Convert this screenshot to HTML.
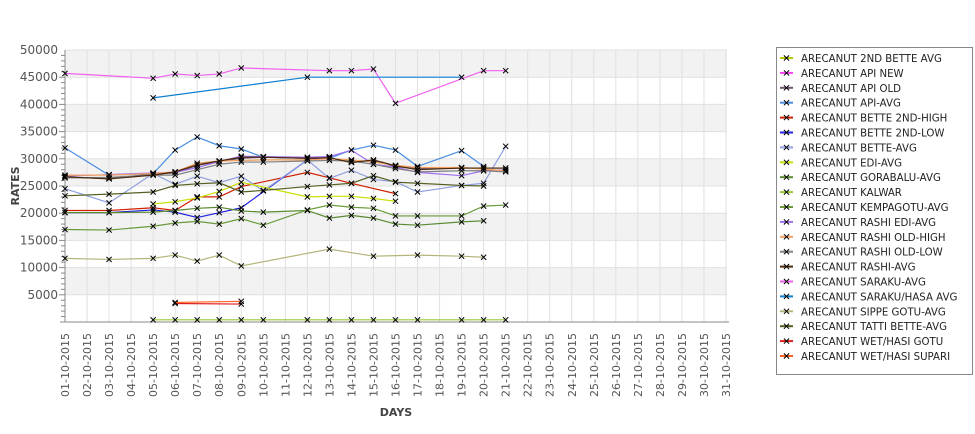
<!DOCTYPE html>
<html><head><meta charset="utf-8"><style>
body{margin:0;background:#fff;width:975px;height:429px;overflow:hidden;font-family:"Liberation Sans","DejaVu Sans",sans-serif}
svg text{font-family:"DejaVu Sans","Liberation Sans",sans-serif}
</style></head><body>
<svg id="chart" width="975" height="429" xmlns="http://www.w3.org/2000/svg">
<g id="bands"></g>
<g id="grid"></g>
<g id="axes"></g>
<g id="series"></g>
<text x="19" y="186" transform="rotate(-90 19 186)" text-anchor="middle" font-size="11" font-weight="bold" fill="#444">RATES</text>
<text x="396" y="416" text-anchor="middle" font-size="11" font-weight="bold" fill="#444">DAYS</text>
<g id="legend"></g>
</svg>
<script>
const categories = ["01-10-2015","02-10-2015","03-10-2015","04-10-2015","05-10-2015","06-10-2015","07-10-2015","08-10-2015","09-10-2015","10-10-2015","11-10-2015","12-10-2015","13-10-2015","14-10-2015","15-10-2015","16-10-2015","17-10-2015","18-10-2015","19-10-2015","20-10-2015","21-10-2015","22-10-2015","23-10-2015","24-10-2015","25-10-2015","26-10-2015","27-10-2015","28-10-2015","29-10-2015","30-10-2015","31-10-2015"];
const yTicks = [5000,10000,15000,20000,25000,30000,35000,40000,45000,50000];
const seriesNames = ["ARECANUT 2ND BETTE AVG","ARECANUT API NEW","ARECANUT API OLD","ARECANUT API-AVG","ARECANUT BETTE 2ND-HIGH","ARECANUT BETTE 2ND-LOW","ARECANUT BETTE-AVG","ARECANUT EDI-AVG","ARECANUT GORABALU-AVG","ARECANUT KALWAR","ARECANUT KEMPAGOTU-AVG","ARECANUT RASHI EDI-AVG","ARECANUT RASHI OLD-HIGH","ARECANUT RASHI OLD-LOW","ARECANUT RASHI-AVG","ARECANUT SARAKU-AVG","ARECANUT SARAKU/HASA AVG","ARECANUT SIPPE GOTU-AVG","ARECANUT TATTI BETTE-AVG","ARECANUT WET/HASI GOTU","ARECANUT WET/HASI SUPARI"];
const seriesColors = ["#b5c800","#ff40ff","#6e566e","#4a8ee0","#d02000","#2020e0","#90a0e0","#c8e000","#5a8a30","#9ac832","#6a9a3a","#a070f0","#f4a060","#808080","#4a2a0a","#f060f0","#1080d0","#b5b57a","#556020","#e02020","#ff6020"];
const s2ndBette = {};
const sApiNew = {};
const sApiOld = {0:26600,2:26400,4:27200,5:27400,6:28800,7:29500,8:30100,9:30300,11:30100,12:30200,13:29400,14:29700,15:28600,16:28200,18:28300,19:28300,20:28300};
const sApiAvg = {0:32000,2:27000,4:27300,5:31600,6:34000,7:32400,8:31800,9:30300,11:30100,12:30100,13:31600,14:32500,15:31600,16:28600,18:31500,19:28600};
const sBette2High = {0:20500,2:20500,4:21000,5:20500,6:23000,7:23000,8:24900,11:27500,12:26500,13:25500,15:23600};
const sBette2Low = {0:20100,2:20100,4:20600,5:20200,6:19200,7:20100,8:21000,11:29800,12:30300};
const sBetteAvg = {0:24500,2:21900,4:27300,5:25300,6:26800,7:25600,8:26800,9:24100,11:29800,12:26400,13:27900,14:26200,15:25800,16:23900,18:25100,19:25500,20:32300};
const sEdiAvg = {4:21700,5:22100,6:22800,7:24000,8:25700,11:23000,12:23100,13:23100,14:22700,15:22200};
const sGorabalu = {0:20100,2:20100,4:20200,5:20500,6:20900,7:21100,8:20400,9:20200,11:20500,12:19100,13:19600,14:19100,15:18000,16:17800,18:18400,19:18600};
const sKalwar = {4:400,5:400,6:400,7:400,8:400,9:400,11:400,12:400,13:400,14:400,15:400,16:400,18:400,19:400,20:400};
const sKempagotu = {0:17000,2:16900,4:17600,5:18200,6:18500,7:18000,8:19000,9:17800,11:20600,12:21500,13:21100,14:20900,15:19500,16:19500,18:19500,19:21300,20:21500};
const sRashiEdi = {0:26800,2:27100,4:27400,5:27500,6:28400,7:29500,8:30500,9:30400,11:30300,12:30400,13:31600,14:29000,15:28500,16:27500,18:26900,19:27800,20:28000};
const sRashiOldHigh = {0:27000,2:27000,4:27300,5:27600,6:29200,7:29600,8:29700,9:29800,11:29800,12:30000,13:29800,14:29400,15:28800,16:28400,18:28400,19:28100,20:27800};
const sRashiOldLow = {0:26500,2:26600,4:27000,5:27000,6:28000,7:29000,8:29400,9:29400,11:29600,12:29700,13:29600,14:29000,15:28200,16:27600,18:27800,19:27800,20:27600};
const sRashiAvg = {0:26700,2:26300,4:27000,5:27600,6:28900,7:29600,8:30300,9:30300,11:30100,12:30200,13:29300,14:29800,15:28700,16:28000,18:28300,19:28300,20:28300};
const sSaraku = {0:45700,4:44800,5:45600,6:45300,7:45600,8:46700,12:46200,13:46200,14:46500,15:40200,19:46200,20:46200};
const sSarakuHasa = {4:41200,11:45000,18:45000};
const sSippe = {0:11700,2:11500,4:11700,5:12300,6:11200,7:12300,8:10300,12:13400,14:12100,16:12300,18:12100,19:11900};
const sTatti = {0:23200,2:23500,4:23900,5:25100,6:25400,7:25600,8:23900,9:24200,11:24900,12:25200,13:25500,14:26900,15:25700,16:25500,18:25100,19:25000};
const sWetGotu = {5:3400,8:3300};
const sWetSupari = {5:3600,8:3800};
const seriesData = [s2ndBette,sApiNew,sApiOld,sApiAvg,sBette2High,sBette2Low,sBetteAvg,sEdiAvg,sGorabalu,sKalwar,sKempagotu,sRashiEdi,sRashiOldHigh,sRashiOldLow,sRashiAvg,sSaraku,sSarakuHasa,sSippe,sTatti,sWetGotu,sWetSupari];

const NS="http://www.w3.org/2000/svg";
const L=65,R=727,T=50,B=322,YMAX=50000;
const xPos=i=>L+i*(R-L)/(categories.length-1)*0.9985;
const yPos=v=>B-(v/YMAX)*(B-T);
function mk(tag,attrs,parent){const e=document.createElementNS(NS,tag);for(const k in attrs)e.setAttribute(k,attrs[k]);parent.appendChild(e);return e;}
const bands=document.getElementById('bands'),grid=document.getElementById('grid'),axes=document.getElementById('axes'),ser=document.getElementById('series'),leg=document.getElementById('legend');
for(let v=0;v<YMAX;v+=5000){
  const r=mk('rect',{x:L,y:yPos(v+5000),width:R-L,height:yPos(v)-yPos(v+5000),fill:(v/5000)%2?'#f2f2f2':'#ffffff'},bands);
  
  
}
yTicks.forEach(v=>{
  const g=mk('line',{x1:L,x2:R,y1:yPos(v),y2:yPos(v),stroke:'#e0e0e0','stroke-width':1},grid);
  
  
  const t=mk('text',{x:58,y:yPos(v)+4,'text-anchor':'end','font-size':12,fill:'#555'},axes);
  t.textContent=v;
  
  
});
for(let v=1000;v<YMAX;v+=1000){
  const m=mk('line',{x1:v%5000?61:59,x2:L,y1:yPos(v),y2:yPos(v),stroke:'#888','stroke-width':1},axes);
  
  
}
categories.forEach((c,i)=>{
  const x=xPos(i);
  const g=mk('line',{x1:x,x2:x,y1:T,y2:B,stroke:'#e0e0e0','stroke-width':1},grid);
  
  
  const t=mk('text',{x:0,y:0,'text-anchor':'end','font-size':11,fill:'#555',transform:`translate(${x+4},${333}) rotate(-90)`},axes);
  t.textContent=c;
  
  
});
const ya=mk('line',{x1:L,x2:L,y1:T,y2:B,stroke:'#888','stroke-width':1},axes);


const xa=mk('line',{x1:L-5,x2:R+2,y1:B,y2:B,stroke:'#888','stroke-width':1},axes);


function cross(x,y,p,c){mk('path',{d:`M${x-2.6},${y-2.6}L${x+2.6},${y+2.6}M${x-2.6},${y+2.6}L${x+2.6},${y-2.6}`,stroke:c,'stroke-width':1},p);}
seriesData.forEach((d,si)=>{
  const g=mk('g',{},ser);
  
  
  const idx=Object.keys(d).map(Number).sort((a,b)=>a-b);
  if(idx.length>1){
    const pl=mk('polyline',{points:idx.map(i=>xPos(i)+','+yPos(d[i])).join(' '),fill:'none',stroke:seriesColors[si],'stroke-width':1.2},g);
    
    
  }
  idx.forEach(i=>cross(xPos(i),yPos(d[i]),g,'#000'));
});
const lb=mk('rect',{x:776.5,y:47.5,width:196,height:327,fill:'#fff',stroke:'#888'},leg);


seriesNames.forEach((n,i)=>{
  const y=58+i*14.9;
  const g=mk('g',{},leg);
  
  
  mk('line',{x1:780,x2:793,y1:y,y2:y,stroke:seriesColors[i],'stroke-width':2},g);
  cross(786.5,y,g,'#000');
  const t=mk('text',{x:801,y:y+4,'font-size':10.2,fill:'#222'},g);
  t.textContent=n;
});
</script>
</body></html>
